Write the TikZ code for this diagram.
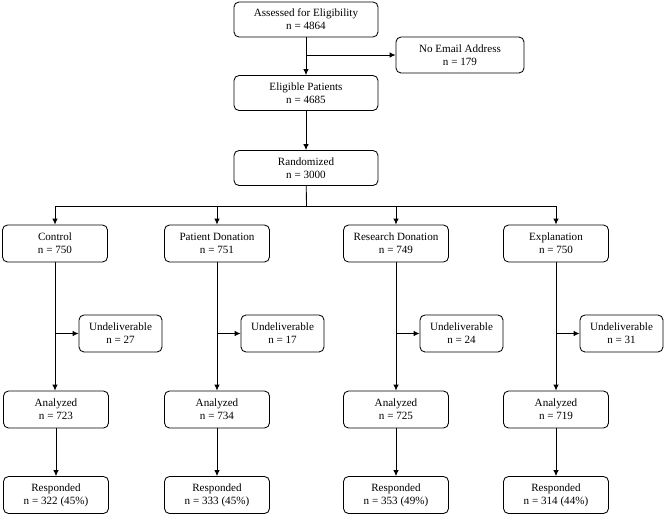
\documentclass[tikz,border=0pt]{standalone}
\usepackage{fontspec}
\setmainfont{Liberation Serif}
\usetikzlibrary{arrows.meta,positioning}
\begin{document}
\begin{tikzpicture}[x=1pt,y=-1pt,
  box/.style={draw, line width=0.85pt, rounded corners=5pt, align=center, inner sep=0pt,
    font=\fontsize{11.1}{13}\selectfont},
  topbox/.style={box, minimum width=144, minimum height=35},
  grpbox/.style={box, minimum width=105, minimum height=37},
  undbox/.style={box, minimum width=83, minimum height=37},
  emailbox/.style={box, minimum width=128, minimum height=36},
  link/.style={line width=0.85pt},
  arr/.style={link, -{Latex[length=6pt,width=5.5pt]}}]
\useasboundingbox (0,0) rectangle (664,515);

\node[topbox] (assess) at (306,19.5) {Assessed for Eligibility\\n = 4864};
\node[emailbox] (email) at (460,55) {No Email Address\\n = 179};
\node[topbox] (elig) at (306,93) {Eligible Patients\\n = 4685};
\node[topbox] (rand) at (306,168) {Randomized\\n = 3000};
\coordinate (split) at (306.5,206);

\draw[arr] (assess) -- (elig);
\draw[arr] (assess |- email) -- (email);
\draw[arr] (elig) -- (rand);
\draw[link] (rand) -- (split);

% groups
\node[grpbox] (g1) at (55,243.5) {Control\\n = 750};
\node[grpbox] (g2) at (217,243.5) {Patient Donation\\n = 751};
\node[grpbox] (g3) at (396,243.5) {Research Donation\\n = 749};
\node[grpbox] (g4) at (556,243.5) {Explanation\\n = 750};

\node[undbox] (u1) at (120.5,333.5) {Undeliverable\\n = 27};
\node[undbox] (u2) at (282.5,333.5) {Undeliverable\\n = 17};
\node[undbox] (u3) at (461.5,333.5) {Undeliverable\\n = 24};
\node[undbox] (u4) at (621.5,333.5) {Undeliverable\\n = 31};

\node[grpbox] (a1) at (56,409.5) {Analyzed\\n = 723};
\node[grpbox] (a2) at (217,409.5) {Analyzed\\n = 734};
\node[grpbox] (a3) at (396,409.5) {Analyzed\\n = 725};
\node[grpbox] (a4) at (556,409.5) {Analyzed\\n = 719};

\node[grpbox] (r1) at (56,495) {Responded\\n = 322 (45\%)};
\node[grpbox] (r2) at (217,495) {Responded\\n = 333 (45\%)};
\node[grpbox] (r3) at (396,495) {Responded\\n = 353 (49\%)};
\node[grpbox] (r4) at (556,495) {Responded\\n = 314 (44\%)};

\foreach \g in {g1,g2,g3,g4} {
  \draw[arr] (split) -| (\g.north);
}
\foreach \i in {1,2,3,4} {
  \draw[arr] (g\i.south) -- (g\i.south |- a\i.north);
  \draw[arr] (g\i.south |- u\i) -- (u\i);
  \draw[arr] (a\i) -- (r\i);
}
\end{tikzpicture}
\end{document}
